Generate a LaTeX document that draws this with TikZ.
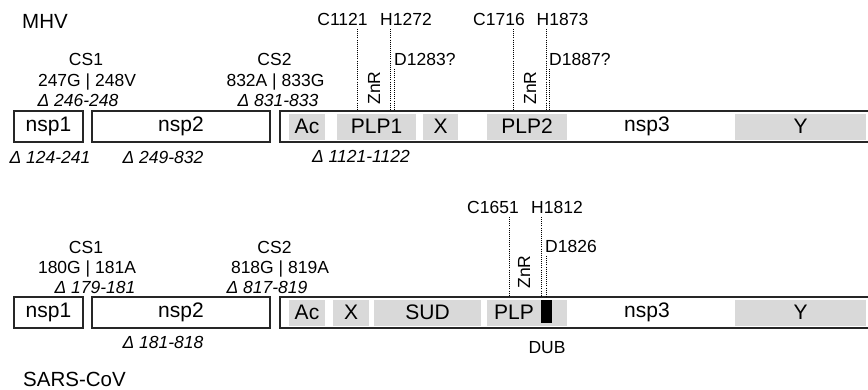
\documentclass[tikz,border=0pt]{standalone}
\usepackage{fontspec}
\setmainfont{Liberation Sans}
\newcommand\sizept[1]{\fontsize{#1}{#1}\selectfont}

\begin{document}
\begin{tikzpicture}[
    x=1pt,
    y=-1pt,
    box/.style={
        draw=black!85,
        line width=1.5pt,
        minimum height=31pt,
        inner sep=0pt,
        font=\sizept{21}
    },
    region/.style={fill=black!15, minimum height=26pt, inner sep=0pt, font=\sizept{21}},
    plain/.style={inner sep=0pt, font=\sizept{21}},
    note/.style={anchor=base, inner sep=0pt, font=\sizept{17.5}},
    cut/.style={note, font=\sizept{17.5}\itshape},
    title/.style={anchor=base west, inner sep=0pt, font=\sizept{20.5}},
    znr/.style={inner sep=0pt, font=\sizept{17.5}, rotate=90},
    site/.style={line width=0.9pt, dash pattern=on 1pt off 1.1pt},
    dub/.style={fill=black, minimum width=11pt, minimum height=23pt, inner sep=0pt}
]
    \useasboundingbox (0,0) rectangle (868,389);
    \clip (0,0) rectangle (868,389);

    % Row geometry
    \def\ya{126.5}
    \def\yb{312.5}

    % ---------------- MHV ----------------
    \node[title] (mhv) at (22,28) {MHV};

    \node[box, minimum width=69pt] (mnspa) at (48.5,\ya) {nsp1};
    \node[box, minimum width=178pt] (mnspb) at (181,\ya) {nsp2};
    \node[box, minimum width=620pt, anchor=west] (mnspc) at (279,\ya) {};

    \node[region, minimum width=36pt] (mac) at (307,\ya) {Ac};
    \node[region, minimum width=79pt] (mplpa) at (376.5,\ya) {PLP1};
    \node[region, minimum width=35pt] (mx) at (440.5,\ya) {X};
    \node[region, minimum width=80pt] (mplpb) at (527,\ya) {PLP2};
    \node[plain] (mnsp3) at (647,\ya) {nsp3};
    \node[region, minimum width=131pt] (my) at (800.5,\ya) {Y};

    % cleavage sites
    \node[note] (mcsa) at (86,65) {CS1};
    \node[note] (mcsares) at (87,86) {247G | 248V};
    \node[cut] (mcsadel) at (78,106) {Δ 246-248};
    \node[note] (mcsb) at (274.5,65) {CS2};
    \node[note] (mcsbres) at (275.5,86) {832A | 833G};
    \node[cut] (mcsbdel) at (278,106) {Δ 831-833};

    \node[cut] (mdela) at (50,163) {Δ 124-241};
    \node[cut] (mdelb) at (163,163) {Δ 249-832};
    \node[cut] (mdelc) at (361,162) {Δ 1121-1122};

    % catalytic residues
    \node[note] (mca) at (342.5,25) {C1121};
    \node[note] (mha) at (406,25) {H1272};
    \node[note, anchor=base west] (mda) at (394,65) {D1283?};
    \node[note] (mcb) at (499,25) {C1716};
    \node[note] (mhb) at (562.5,25) {H1873};
    \node[note, anchor=base west] (mdb) at (549,65) {D1887?};
    \node[znr] (mznra) at (374,88) {ZnR};
    \node[znr] (mznrb) at (530,88) {ZnR};

    \coordinate (mcatop) at (357,29);
    \coordinate (mhatop) at (390,29);
    \coordinate (mdatop) at (394,69);
    \coordinate (mcbtop) at (513,29);
    \coordinate (mhbtop) at (546,29);
    \coordinate (mdbtop) at (549.5,69);
    \foreach \t in {mcatop,mhatop,mdatop,mcbtop,mhbtop,mdbtop} {
        \draw[site] (\t) -- (\t |- mnspc.north);
    }

    % ---------------- SARS-CoV ----------------
    \node[title] (sars) at (23,386) {SARS-CoV};

    \node[box, minimum width=69pt] (snspa) at (48.5,\yb) {nsp1};
    \node[box, minimum width=178pt] (snspb) at (181,\yb) {nsp2};
    \node[box, minimum width=620pt, anchor=west] (snspc) at (279,\yb) {};

    \node[region, minimum width=36pt] (sac) at (307,\yb) {Ac};
    \node[region, minimum width=36pt] (sx) at (351,\yb) {X};
    \node[region, minimum width=107pt] (ssud) at (427.5,\yb) {SUD};
    \node[region, minimum width=80pt] (splp) at (527,\yb) {};
    \node[plain] (splplab) at (514,\yb) {PLP};
    \node[dub] (sdub) at (546.5,311.5) {};
    \node[plain] (snsp3) at (647,\yb) {nsp3};
    \node[region, minimum width=131pt] (sy) at (800.5,\yb) {Y};

    % cleavage sites
    \node[note] (scsa) at (86,253) {CS1};
    \node[note] (scsares) at (87,273) {180G | 181A};
    \node[cut] (scsadel) at (95,293) {Δ 179-181};
    \node[note] (scsb) at (274.5,253) {CS2};
    \node[note] (scsbres) at (280,273) {818G | 819A};
    \node[cut] (scsbdel) at (267,293) {Δ 817-819};

    \node[cut] (sdelb) at (163,348) {Δ 181-818};
    \node[note] (sdublab) at (547,353) {DUB};

    % catalytic residues
    \node[note] (sca) at (493,213) {C1651};
    \node[note] (sha) at (557,213) {H1812};
    \node[note, anchor=base west] (sda) at (545,252) {D1826};
    \node[znr] (sznr) at (524,272) {ZnR};

    \coordinate (scatop) at (509,217);
    \coordinate (shatop) at (541.5,217);
    \coordinate (sdatop) at (546,256);
    \foreach \t in {scatop,shatop,sdatop} {
        \draw[site] (\t) -- (\t |- snspc.north);
    }
\end{tikzpicture}
\end{document}
